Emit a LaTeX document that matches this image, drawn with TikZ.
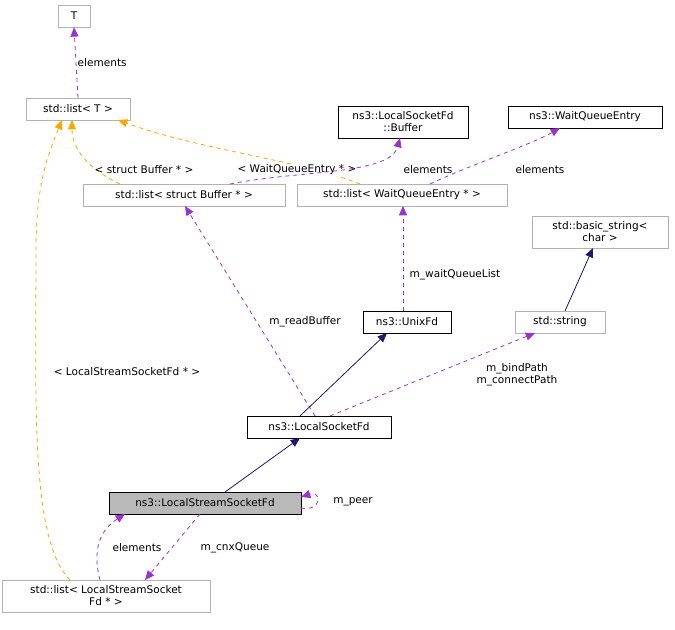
\documentclass[tikz,border=0pt]{standalone}
\usepackage{fontspec}
\setmainfont{DejaVu Sans}
\usetikzlibrary{arrows.meta}
\definecolor{aggc}{HTML}{9A32CD}
\definecolor{tplc}{HTML}{FFA500}
\definecolor{inhc}{HTML}{191970}
\begin{document}
\begin{tikzpicture}[x=0.75pt,y=-0.75pt,font=\fontsize{7.9pt}{9pt}\selectfont,
 box/.style={draw=#1,rectangle,inner sep=0pt,align=center,fill=white},
 box/.default=black,
 gbox/.style={box=gray!60},
 agg/.style={color=aggc,dashed,line width=0.6pt,-{Triangle[length=7pt,width=6pt]}},
 tpl/.style={color=tplc,dashed,line width=0.6pt,-{Triangle[length=7pt,width=6pt]}},
 inh/.style={color=inhc,line width=0.6pt,-{Triangle[length=7pt,width=6pt]}},
 lab/.style={inner sep=1pt,text=black}]
\useasboundingbox (0,0) rectangle (675,629);
\node[gbox,minimum width=32*0.75pt,minimum height=22*0.75pt] (T) at (74,16) {T};
\node[gbox,minimum width=104*0.75pt,minimum height=22*0.75pt] (lT) at (78,109) {std::list< T >};
\node[box,minimum width=130*0.75pt,minimum height=32*0.75pt] (buf) at (403,122) {ns3::LocalSocketFd\\::Buffer};
\node[box,minimum width=154*0.75pt,minimum height=22*0.75pt] (wqe) at (585,117) {ns3::WaitQueueEntry};
\node[gbox,minimum width=202*0.75pt,minimum height=22*0.75pt] (lB) at (184,195) {std::list< struct Buffer * >};
\node[gbox,minimum width=210*0.75pt,minimum height=22*0.75pt] (lW) at (402,195) {std::list< WaitQueueEntry * >};
\node[gbox,minimum width=136*0.75pt,minimum height=32*0.75pt] (bs) at (600,232) {std::basic\_string<\\char >};
\node[box,minimum width=88*0.75pt,minimum height=22*0.75pt] (ux) at (407,322) {ns3::UnixFd};
\node[gbox,minimum width=90*0.75pt,minimum height=22*0.75pt] (str) at (560,322) {std::string};
\node[box,minimum width=144*0.75pt,minimum height=22*0.75pt] (lsf) at (319,427) {ns3::LocalSocketFd};
\node[box,fill=gray!55,minimum width=192*0.75pt,minimum height=22*0.75pt] (lss) at (205,503) {ns3::LocalStreamSocketFd};
\node[gbox,minimum width=208*0.75pt,minimum height=32*0.75pt] (lL) at (106,596) {std::list< LocalStreamSocket\\Fd * >};

\draw[agg] (lT.north) -- (T.south) node[lab,midway,right] {elements};
\draw[tpl] (120,184) .. controls (90,170) and (72,150) .. (72,120);
\node[lab] at (144,170) {< struct Buffer * >};
\draw[tpl] (360,184) .. controls (300,160) and (200,150) .. (118,120);
\node[lab,fill=white] at (297,170) {< WaitQueueEntry * >};
\draw[tpl] (70,580) .. controls (30,540) and (36,400) .. (36,250) .. controls (36,180) and (50,150) .. (62,120);
\node[lab] at (127,372) {< LocalStreamSocketFd * >};
\draw[agg] (230,184) .. controls (300,170) and (390,175) .. (400,138);
\node[lab] at (428,170) {elements};
\draw[agg] (430,184) .. controls (470,165) and (530,145) .. (560,128);
\node[lab] at (540,170) {elements};
\draw[agg] (403,311) -- (403,206);
\node[lab] at (455,275) {m\_waitQueueList};
\draw[agg] (315,416) -- (185,206);
\node[lab,fill=white] at (305,322) {m\_readBuffer};
\draw[inh] (300,416) -- (387,333);
\draw[agg] (330,416) -- (535,333);
\node[lab,align=center] at (517,375) {m\_bindPath\\m\_connectPath};
\draw[inh] (565,311) -- (593,248);
\draw[inh] (225,492) -- (300,438);
\draw[agg] (301,508) .. controls (322,512) and (322,490) .. (301,497);
\node[lab] at (353,502) {m\_peer};
\draw[agg] (200,514) -- (145,580);
\node[lab] at (235,548) {m\_cnxQueue};
\draw[agg] (100,580) .. controls (92,550) and (100,530) .. (125,514);
\node[lab] at (137,548) {elements};
\end{tikzpicture}
\end{document}
